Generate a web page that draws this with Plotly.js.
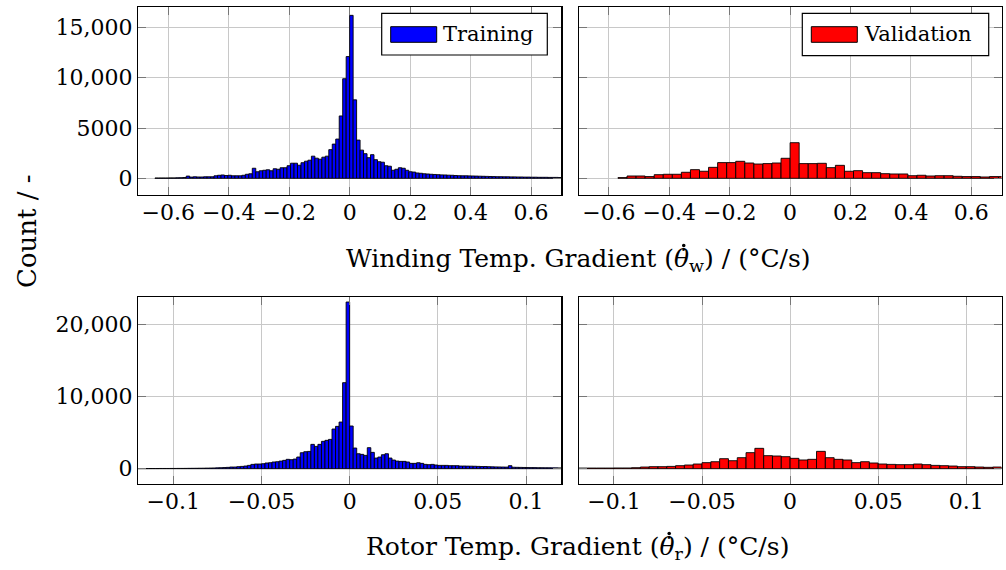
<!DOCTYPE html>
<html><head><meta charset="utf-8">
<script src="https://cdn.plot.ly/plotly-3.0.1.min.js"></script>
<style>html,body{margin:0;padding:0;background:#fff}#chart{width:1006px;height:570px}</style>
</head><body><div id="chart"></div>
<script>
// ---- data (histogram bins: first left edge, bin width, counts) ----
const seriesNames = ['Training', 'Validation'];

const windTrainStart = -0.644;
const windTrainWidth = 0.0115;
const windTrainCounts = [30,30,30,30,40,40,50,60,80,
  220,
  120,150,130,130,150,150,150,
  250,300,330,
  280,300,250,250,250,
  300,400,450,
  1000,
  650,750,800,850,750,950,900,
  1050,1050,1250,1500,1500,1300,1550,1700,1800,2200,
  2000,1900,2100,2200,2850,3400,3900,6200,9900,12100,
  16200,
  7800,3800,2800,2450,2050,2350,1850,1650,1600,1250,1200,800,900,1050,1000,800,650,620,530,
  500,450,430,400,380,360,340,330,310,300,280,
  260,250,250,240,230,220,210,200,190,180,170,160,160,150,150,
  140,140,130,130,120,120,110,110,100,100,100,90,90,90,80];

const windValStart = -0.57;
const windValWidth = 0.03;
const windValCounts = [70,230,230,170,360,400,400,600,860,700,1090,1560,1560,1690,1520,1420,1460,1520,1990,
  3540,
  1460,1460,1490,1060,1290,700,760,560,560,460,430,430,260,300,230,260,260,200,170,170,130,170,170];

const rotorTrainStart = -0.12;
const rotorTrainWidth = 0.002;
const rotorTrainCounts = [20,20,20,25,25,25,30,30,30,35,35,40,40,45,50,55,60,65,70,80,
  90,100,120,140,160,185,230,230,280,320,
  370,460,600,650,650,690,790,830,930,970,
  1060,1160,1300,1250,1340,1620,2220,2360,2400,3380,
  3100,3380,3800,3940,4070,5510,5880,6480,11950,23150,
  5930,2870,2080,1990,1850,2920,2270,1480,1620,1940,
  2080,1480,1200,1060,1020,1020,930,740,740,830,
  740,600,560,600,510,460,460,460,420,420,
  420,370,370,360,350,340,320,300,300,280,
  260,250,240,230,220,420,200,190,180,170,
  160,150,150,140,140,130,130,120,120,110];

const rotorValStart = -0.12;
const rotorValWidth = 0.005;
const rotorValCounts = [90,90,90,90,100,100,140,230,280,280,320,420,510,650,840,970,1390,1110,1530,2230,2830,1810,1760,1670,
  1440,1210,1300,2410,1530,1300,1210,840,970,790,650,600,560,560,650,560,460,420,370,280,280,230,190,230];

// ---- tick labels ----
const windTicks = [-0.6,-0.4,-0.2,0,0.2,0.4,0.6];
const rotorTicks = [-0.1,-0.05,0,0.05,0.1];
const windCountTicks = [0,5000,10000,15000];
const windCountLabels = ['0','5000','10,000','15,000'];
const rotorCountTicks = [0,10000,20000];
const rotorCountLabels = ['0','10,000','20,000'];

const xTitleWinding = 'Winding Temp. Gradient (<i>θ\u0307</i><sub>w</sub>) / (°C/s)';
const xTitleRotor = 'Rotor Temp. Gradient (<i>θ\u0307</i><sub>r</sub>) / (°C/s)';
const yTitle = 'Count / -';

// ---- build ----
function centers(start, w, n) { const c = []; for (let i = 0; i < n; i++) c.push(start + (i + 0.5) * w); return c; }
function hist(start, w, counts, color, xa, ya, name) {
  return { type: 'bar', name: name, x: centers(start, w, counts.length), y: counts, width: w,
    xaxis: xa, yaxis: ya, marker: { color: color, line: { color: '#000', width: 0.9 } }, hoverinfo: 'x+y' };
}
const BLUE = '#0000ff', RED = '#ff0000';
const traces = [
  hist(windTrainStart, windTrainWidth, windTrainCounts, BLUE, 'x', 'y', seriesNames[0]),
  hist(windValStart, windValWidth, windValCounts, RED, 'x2', 'y2', seriesNames[1]),
  hist(rotorTrainStart, rotorTrainWidth, rotorTrainCounts, BLUE, 'x3', 'y3', seriesNames[0]),
  hist(rotorValStart, rotorValWidth, rotorValCounts, RED, 'x4', 'y4', seriesNames[1])
];

const SERIF = 'DejaVu Serif';
const TICKFONT = { family: SERIF, size: 22, color: '#000' };
const TEXTFONT = { family: SERIF, size: 25, color: '#000' };
const YTFONT = { family: SERIF, size: 26, color: '#000' };
const LEGFONT = { family: SERIF, size: 21, color: '#000' };
const W = 1006, H = 570;
const px = v => v / W, py = v => 1 - v / H;

function xax(dom, range, ticks, anchor) {
  return { domain: dom, range: range, anchor: anchor, tickvals: ticks, showgrid: true, gridcolor: '#c8c8c8', gridwidth: 1,
    zeroline: false, showline: true, linecolor: '#000', linewidth: 1.2, mirror: 'ticks', ticks: 'inside', ticklen: 8,
    tickcolor: '#777', tickwidth: 1, tickfont: TICKFONT, ticklabelstandoff: -3, fixedrange: true };
}
function yax(dom, range, ticks, labels, anchor, showLabels) {
  return { domain: dom, range: range, anchor: anchor, tickvals: ticks, ticktext: labels, showticklabels: showLabels,
    showgrid: true, gridcolor: '#c8c8c8', gridwidth: 1, zeroline: false, showline: true, linecolor: '#000', linewidth: 1.2,
    mirror: 'ticks', ticks: 'inside', ticklen: 8, tickcolor: '#777', tickwidth: 1, tickfont: TICKFONT,
    ticklabelstandoff: 0, fixedrange: true };
}
const xL = [px(138), px(561.3)], xR = [px(578.7), px(1001.5)];
const yT = [py(195), py(6.7)], yB = [py(484), py(296.7)];
const windYRange = [-1660, 17060], rotorYRange = [-2125, 23890];

function legendItems(box, sw, textX, textY, color, label) {
  return {
    shapes: [
      { type: 'rect', xref: 'paper', yref: 'paper', x0: px(box[0]), x1: px(box[1]), y0: py(box[3]), y1: py(box[2]),
        fillcolor: '#fff', line: { color: '#000', width: 1.2 }, layer: 'above' },
      { type: 'rect', xref: 'paper', yref: 'paper', x0: px(sw[0]), x1: px(sw[1]), y0: py(sw[3]), y1: py(sw[2]),
        fillcolor: color, line: { color: '#000', width: 1 }, layer: 'above' }
    ],
    ann: { xref: 'paper', yref: 'paper', x: px(textX), y: py(textY), xanchor: 'left', yanchor: 'middle', text: label,
      showarrow: false, font: LEGFONT }
  };
}
const lg1 = legendItems([381.7, 547.3, 13.3, 55], [390.7, 436.7, 26.7, 42.3], 441, 34.5, BLUE, seriesNames[0]);
const lg2 = legendItems([802.3, 988.7, 13.3, 55.7], [811.3, 857.3, 26.7, 42.3], 862, 34.5, RED, seriesNames[1]);
const baseShapes = [].concat(lg1.shapes, lg2.shapes);

const layout = {
  width: W, height: H, margin: { l: 0, r: 0, t: 0, b: 0 }, showlegend: false,
  font: { family: SERIF, size: 22, color: '#000' },
  paper_bgcolor: '#fff', plot_bgcolor: '#fff', barmode: 'overlay',
  xaxis: xax(xL, [-0.7, 0.7], windTicks, 'y'),
  yaxis: yax(yT, windYRange, windCountTicks, windCountLabels, 'x', true),
  xaxis2: xax(xR, [-0.7, 0.7], windTicks, 'y2'),
  yaxis2: yax(yT, windYRange, windCountTicks, windCountLabels, 'x2', false),
  xaxis3: xax(xL, [-0.12, 0.12], rotorTicks, 'y3'),
  yaxis3: yax(yB, rotorYRange, rotorCountTicks, rotorCountLabels, 'x3', true),
  xaxis4: xax(xR, [-0.12, 0.12], rotorTicks, 'y4'),
  yaxis4: yax(yB, rotorYRange, rotorCountTicks, rotorCountLabels, 'x4', false),
  shapes: baseShapes,
  annotations: [
    lg1.ann, lg2.ann,
    { xref: 'paper', yref: 'paper', x: px(578.5), y: py(260), xanchor: 'center', yanchor: 'middle', text: xTitleWinding, showarrow: false, font: TEXTFONT },
    { xref: 'paper', yref: 'paper', x: px(577.5), y: py(548), xanchor: 'center', yanchor: 'middle', text: xTitleRotor, showarrow: false, font: TEXTFONT },
    { xref: 'paper', yref: 'paper', x: px(27), y: py(231), xanchor: 'center', yanchor: 'middle', text: yTitle, textangle: -90, showarrow: false, font: YTFONT }
  ]
};

// the time-derivative dot above θ: the combining mark is not drawn by the font, so add it where the glyph sits
function addThetaDots(gd) {
  const gRect = gd.getBoundingClientRect();
  const dots = [];
  gd.querySelectorAll('text.annotation-text').forEach(function (t) {
    const s = t.textContent;
    const i = s.indexOf('θ');
    if (i < 0) return;
    let ext;
    try { ext = t.getExtentOfChar(i); } catch (e) { return; }
    const m = t.getScreenCTM();
    const lx = ext.x + ext.width / 2, ly = ext.y;
    const cx = m.a * lx + m.c * ly + m.e - gRect.left + 2.2;
    const cy = m.b * lx + m.d * ly + m.f - gRect.top + 1.5;
    const r = 1.8;
    dots.push({ type: 'circle', xref: 'paper', yref: 'paper', x0: px(cx - r), x1: px(cx + r), y0: py(cy + r), y1: py(cy - r),
      fillcolor: '#000', line: { width: 0 }, layer: 'above' });
  });
  if (dots.length) return Plotly.relayout(gd, { shapes: baseShapes.concat(dots) });
}
Plotly.newPlot('chart', traces, layout, { displayModeBar: false, staticPlot: true }).then(addThetaDots);
</script></body></html>
